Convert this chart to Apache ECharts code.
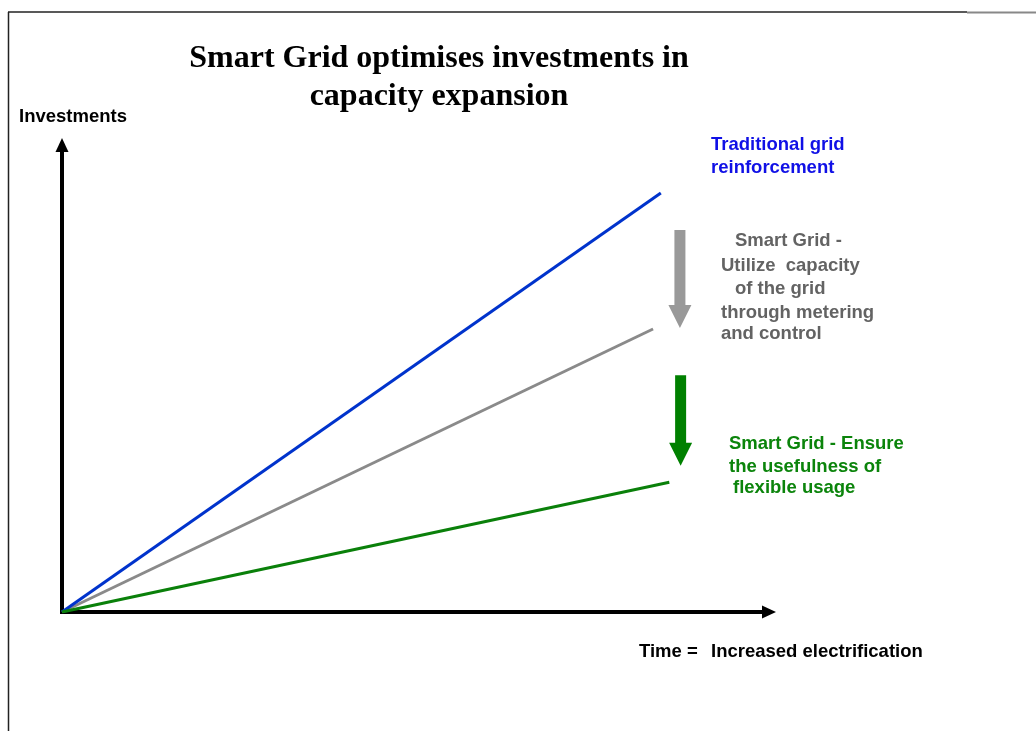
<!DOCTYPE html>
<html>
<head>
<meta charset="utf-8">
<script src="https://cdn.jsdelivr.net/npm/echarts@6/dist/echarts.min.js"></script>
<style>
  html, body { margin: 0; padding: 0; background: #fff; }
  #chart { width: 1036px; height: 731px; }
</style>
</head>
<body>
<div id="chart"></div>
<script>
// investment paths over time, [time, investment] on a 0-100 scale
const seriesNames = ["Traditional grid reinforcement", "Smart Grid - Utilize capacity", "Smart Grid - Ensure flexible usage"];
const traditionalLine = [[0, 0], [84.7, 89.7]];
const utilizeLine = [[0, 0], [83.6, 60.6]];
const flexibleLine = [[0, 0], [85.9, 27.8]];
// savings arrows: [time, from, to]
const savingArrows = [[87.4, 81.8, 60.8], [87.5, 50.7, 31.3]];
const arrowColors = ["#999999", "#008000"];

const chart = echarts.init(document.getElementById("chart"));

function label(text, x, baseline, color, size) {
  size = size || 18.5;
  return {
    type: "text",
    x: x,
    y: baseline - size * 0.34,
    silent: true,
    style: {
      text: text,
      font: "bold " + size + "px 'Liberation Sans', Arial, sans-serif",
      fill: color,
      align: "left",
      verticalAlign: "middle"
    }
  };
}

const option = {
  animation: false,
  backgroundColor: "#fff",
  title: {
    text: "Smart Grid optimises investments in\ncapacity expansion",
    left: 439,
    top: 40,
    textAlign: "center",
    padding: 0,
    textStyle: {
      fontFamily: "'Liberation Serif', 'Times New Roman', serif",
      fontWeight: "bold",
      fontSize: 32,
      lineHeight: 38,
      color: "#000"
    }
  },
  grid: { left: 62, right: 267, top: 145, bottom: 119 },
  xAxis: {
    type: "value",
    min: 0,
    max: 100,
    axisLine: {
      show: true,
      symbol: ["none", "triangle"],
      symbolSize: [13, 14],
      lineStyle: { color: "#000", width: 4, cap: "square" }
    },
    axisTick: { show: false },
    axisLabel: { show: false },
    splitLine: { show: false }
  },
  yAxis: {
    type: "value",
    min: 0,
    max: 100,
    axisLine: {
      show: true,
      symbol: ["none", "triangle"],
      symbolSize: [13, 14],
      lineStyle: { color: "#000", width: 4, cap: "square" }
    },
    axisTick: { show: false },
    axisLabel: { show: false },
    splitLine: { show: false }
  },
  series: [
    {
      name: seriesNames[0],
      type: "line",
      data: traditionalLine,
      showSymbol: false,
      lineStyle: { color: "#0033cc", width: 3 },
      z: 3
    },
    {
      name: seriesNames[1],
      type: "line",
      data: utilizeLine,
      showSymbol: false,
      lineStyle: { color: "#8a8a8a", width: 3 },
      z: 2
    },
    {
      name: seriesNames[2],
      type: "line",
      data: flexibleLine,
      showSymbol: false,
      lineStyle: { color: "#0a800a", width: 3 },
      z: 4
    },
    {
      type: "custom",
      data: savingArrows,
      renderItem: function (params, api) {
        const top = api.coord([api.value(0), api.value(1)]);
        const tip = api.coord([api.value(0), api.value(2)]);
        const x = tip[0];
        const shaft = 5.5, head = 11.5, headLen = 23;
        const neck = tip[1] - headLen;
        return {
          type: "polygon",
          shape: {
            points: [
              [x - shaft, top[1]], [x + shaft, top[1]], [x + shaft, neck],
              [x + head, neck], [x, tip[1]], [x - head, neck], [x - shaft, neck]
            ]
          },
          style: { fill: arrowColors[params.dataIndex] }
        };
      }
    }
  ],
  graphic: [
    // page frame
    { type: "line", shape: { x1: 8.5, y1: 12, x2: 8.5, y2: 731 }, style: { stroke: "#222", lineWidth: 1.5 } },
    { type: "line", shape: { x1: 8, y1: 12, x2: 967, y2: 12 }, style: { stroke: "#222", lineWidth: 1.5 } },
    { type: "line", shape: { x1: 967, y1: 12.5, x2: 1036, y2: 12.5 }, style: { stroke: "#888", lineWidth: 2 } },
    label("Investments", 19, 123, "#000"),
    label("Time =", 639, 658, "#000"),
    label("Increased electrification", 711, 658, "#000"),
    label("Traditional grid", 711, 151, "#1010e6"),
    label("reinforcement", 711, 174, "#1010e6"),
    label("Smart Grid -", 735, 247, "#636363"),
    label("Utilize  capacity", 721, 272, "#636363"),
    label("of the grid", 735, 295, "#636363"),
    label("through metering", 721, 319, "#636363"),
    label("and control", 721, 340, "#636363"),
    label("Smart Grid - Ensure", 729, 450, "#0b840b"),
    label("the usefulness of", 729, 473, "#0b840b"),
    label("flexible usage", 733, 494, "#0b840b")
  ]
};

chart.setOption(option);
</script>
</body>
</html>
